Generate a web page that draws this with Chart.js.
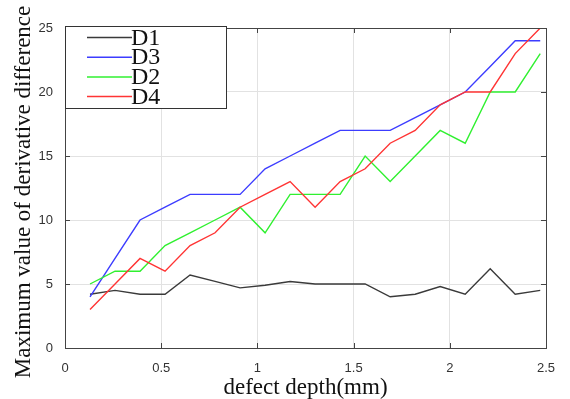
<!DOCTYPE html>
<html>
<head>
<meta charset="utf-8">
<script src="https://cdn.jsdelivr.net/npm/chart.js@4.4.1/dist/chart.umd.min.js"></script>
<style>
  html, body { margin: 0; padding: 0; background: #fff; }
  #wrap { width: 570px; height: 399px; }
</style>
</head>
<body>
<div id="wrap"><canvas id="chart"></canvas></div>
<script>
/* ---------------- DATA ---------------- */

const depth = [0.13, 0.26, 0.39, 0.52, 0.65, 0.78, 0.91, 1.04, 1.17, 1.30,
               1.43, 1.56, 1.69, 1.82, 1.95, 2.08, 2.21, 2.34, 2.47];

const d1 = [4.2, 4.5, 4.2, 4.2, 5.7, 5.2, 4.7, 4.9, 5.2, 5.0,
            5.0, 5.0, 4.0, 4.2, 4.8, 4.2, 6.2, 4.2, 4.5];
const d3 = [4, 7, 10, 11, 12, 12, 12, 14, 15, 16,
            17, 17, 17, 18, 19, 20, 22, 24, 24];
const d2 = [5, 6, 6, 8, 9, 10, 11, 9, 12, 12,
            12, 15, 13, 15, 17, 16, 20, 20, 23];
const d4 = [3, 5, 7, 6, 8, 9, 11, 12, 13, 11,
            13, 14, 16, 17, 19, 20, 20, 23, 25];

const seriesNames = ["D1", "D3", "D2", "D4"];
const seriesValues = [d1, d3, d2, d4];
const seriesColors = ["#3a3a3a", "#3c3cff", "#30f030", "#ff3434"];

const xTicks = [0, 0.5, 1, 1.5, 2, 2.5];
const yTicks = [0, 5, 10, 15, 20, 25];

const yTitle = "Maximum value of derivative difference";

/* ---------------- HELPERS ---------------- */

function points(values) {
  return values.map((v, i) => ({ x: depth[i], y: v }));
}

// matlab style box with inward ticks
const boxPlugin = {
  id: "box",
  afterDatasetsDraw(chart) {
    const { ctx, chartArea: a, scales } = chart;
    ctx.save();
    ctx.strokeStyle = "#444";
    ctx.lineWidth = 1;
    ctx.strokeRect(a.left + 0.5, a.top + 0.5, a.right - a.left, a.bottom - a.top);
    ctx.beginPath();
    xTicks.forEach(t => {
      const x = Math.round(scales.x.getPixelForValue(t)) + 0.5;
      ctx.moveTo(x, a.bottom); ctx.lineTo(x, a.bottom - 5);
      ctx.moveTo(x, a.top); ctx.lineTo(x, a.top + 5);
    });
    yTicks.forEach(t => {
      const y = Math.round(scales.y.getPixelForValue(t)) + 0.5;
      ctx.moveTo(a.left, y); ctx.lineTo(a.left + 5, y);
      ctx.moveTo(a.right, y); ctx.lineTo(a.right - 5, y);
    });
    ctx.stroke();
    ctx.restore();
  }
};

// legend box in upper left corner + y axis title
const legendPlugin = {
  id: "boxLegend",
  afterDraw(chart) {
    const ctx = chart.ctx;
    ctx.save();
    ctx.fillStyle = "#fff";
    ctx.fillRect(65, 26, 162, 83);
    ctx.strokeStyle = "#333";
    ctx.lineWidth = 1;
    ctx.strokeRect(65.5, 26.5, 161, 82);
    ctx.font = "24px 'Liberation Serif', serif";
    ctx.textBaseline = "alphabetic";
    chart.data.datasets.forEach((ds, i) => {
      const y = 37.5 + i * 19.7;
      ctx.strokeStyle = ds.borderColor;
      ctx.lineWidth = 1.5;
      ctx.beginPath();
      ctx.moveTo(87, y);
      ctx.lineTo(132, y);
      ctx.stroke();
      ctx.fillStyle = "#111";
      ctx.fillText(ds.label, 131, y + 7);
    });

    ctx.translate(24, 192);
    ctx.rotate(-Math.PI / 2);
    ctx.font = "23px 'Liberation Serif', serif";
    ctx.textAlign = "center";
    ctx.textBaseline = "middle";
    ctx.fillStyle = "#111";
    ctx.fillText(yTitle, 0, 0);
    ctx.restore();
  }
};

/* ---------------- CHART ---------------- */

new Chart(document.getElementById("chart"), {
  type: "line",
  data: {
    datasets: seriesNames.map((name, i) => ({
      label: name,
      data: points(seriesValues[i]),
      borderColor: seriesColors[i],
      backgroundColor: seriesColors[i],
      borderWidth: 1.4,
      pointRadius: 0,
      tension: 0,
      order: seriesNames.length - i
    }))
  },
  options: {
    responsive: true,
    maintainAspectRatio: false,
    animation: false,
    layout: { padding: { left: 0, top: 28, right: 24, bottom: 0 } },
    plugins: {
      legend: { display: false },
      tooltip: { enabled: false }
    },
    scales: {
      x: {
        type: "linear",
        min: 0,
        max: 2.5,
        afterFit: s => { s.height = 51; },
        afterBuildTicks: s => { s.ticks = xTicks.map(v => ({ value: v })); },
        grid: { color: "#e2e2e2", drawTicks: false },
        border: { display: false },
        ticks: {
          padding: 13,
          color: "#333",
          font: { family: "'Liberation Sans', Arial, sans-serif", size: 13 },
          callback: v => String(v)
        },
        title: {
          display: true,
          text: "defect depth(mm)",
          color: "#111",
          padding: { top: 0, bottom: 0 },
          font: { family: "'Liberation Serif', serif", size: 23, lineHeight: 1.0 }
        }
      },
      y: {
        min: 0,
        max: 25,
        afterFit: s => { s.width = 65; },
        afterBuildTicks: s => { s.ticks = yTicks.map(v => ({ value: v })); },
        grid: { color: "#e2e2e2", drawTicks: false },
        border: { display: false },
        ticks: {
          padding: 12,
          color: "#333",
          font: { family: "'Liberation Sans', Arial, sans-serif", size: 13 }
        }
      }
    }
  },
  plugins: [boxPlugin, legendPlugin]
});
</script>
</body>
</html>
